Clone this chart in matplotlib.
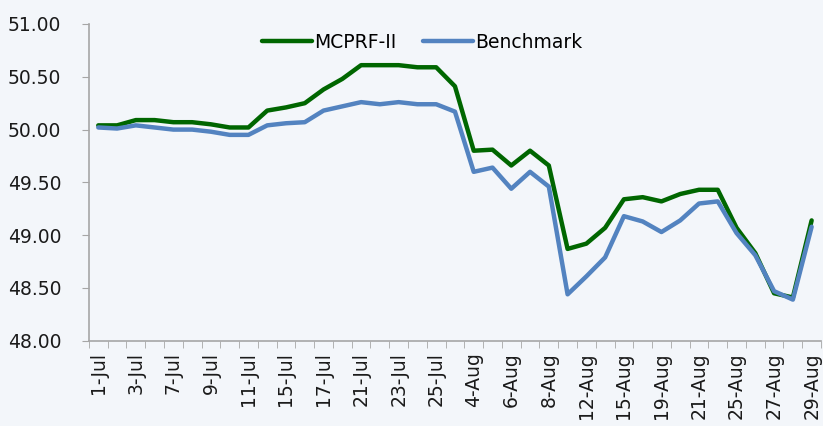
import matplotlib
matplotlib.use('Agg')
from matplotlib import pyplot as plt
from matplotlib.ticker import FixedLocator, FormatStrFormatter

# dates (every other one is shown on the axis)
dates = ['1-Jul', '2-Jul', '3-Jul', '4-Jul', '7-Jul', '8-Jul', '9-Jul', '10-Jul',
         '11-Jul', '14-Jul', '15-Jul', '16-Jul', '17-Jul', '18-Jul', '21-Jul',
         '22-Jul', '23-Jul', '24-Jul', '25-Jul', '1-Aug', '4-Aug', '5-Aug',
         '6-Aug', '7-Aug', '8-Aug', '11-Aug', '12-Aug', '13-Aug', '15-Aug',
         '18-Aug', '19-Aug', '20-Aug', '21-Aug', '22-Aug', '25-Aug', '26-Aug',
         '27-Aug', '28-Aug', '29-Aug']

mcprf = [50.04, 50.04, 50.09, 50.09, 50.07, 50.07, 50.05, 50.02, 50.02, 50.18,
         50.21, 50.25, 50.38, 50.48, 50.61, 50.61, 50.61, 50.59, 50.59, 50.41,
         49.80, 49.81, 49.66, 49.80, 49.66, 48.87, 48.92, 49.07, 49.34, 49.36,
         49.32, 49.39, 49.43, 49.43, 49.07, 48.83, 48.45, 48.41, 49.14]

benchmark = [50.02, 50.01, 50.04, 50.02, 50.00, 50.00, 49.98, 49.95, 49.95, 50.04,
             50.06, 50.07, 50.18, 50.22, 50.26, 50.24, 50.26, 50.24, 50.24, 50.17,
             49.60, 49.64, 49.44, 49.60, 49.46, 48.44, 48.61, 48.79, 49.18, 49.13,
             49.03, 49.14, 49.30, 49.32, 49.02, 48.81, 48.47, 48.39, 49.08]

bg = '#F3F6FA'
plt.rcParams['font.family'] = ['DejaVu Sans']

fig = plt.figure(figsize=(8.23, 4.26), dpi=100, facecolor=bg)
ax = fig.add_axes([0.108, 0.2, 0.8896, 0.7437], facecolor=bg)

x = list(range(len(dates)))
ax.plot(x, mcprf, color='#006600', lw=3.2, label='MCPRF-II', solid_capstyle='round')
ax.plot(x, benchmark, color='#5383C0', lw=3.2, label='Benchmark', solid_capstyle='round')

ax.set_xlim(-0.5, len(dates) - 0.5)
ax.set_ylim(48, 51)
ax.set_yticks([48.0, 48.5, 49.0, 49.5, 50.0, 50.5, 51.0])
ax.yaxis.set_major_formatter(FormatStrFormatter('%.2f'))

ax.set_xticks(x[::2])
ax.set_xticklabels(dates[::2], rotation=90)
ax.xaxis.set_minor_locator(FixedLocator([i - 0.5 for i in range(len(dates) + 1)]))

ax.tick_params(axis='x', which='major', length=0, pad=8, labelsize=13.5, colors='#1a1a1a')
ax.tick_params(axis='x', which='minor', length=5, color='#A6A6A6', direction='out')
ax.tick_params(axis='y', length=5, labelsize=13.5, colors='#1a1a1a', pad=15)
ax.tick_params(axis='y', color='#A6A6A6')

for s in ['top', 'right']:
    ax.spines[s].set_visible(False)
for s in ['left', 'bottom']:
    ax.spines[s].set_color('#A6A6A6')
    ax.spines[s].set_linewidth(1.2)

ax.legend(loc='upper center', bbox_to_anchor=(0.455, 1.025), ncol=2, frameon=False,
          fontsize=13.5, handlelength=2.7, handletextpad=0.1, columnspacing=1.4)

plt.savefig('out.png', dpi=100, facecolor=bg)
